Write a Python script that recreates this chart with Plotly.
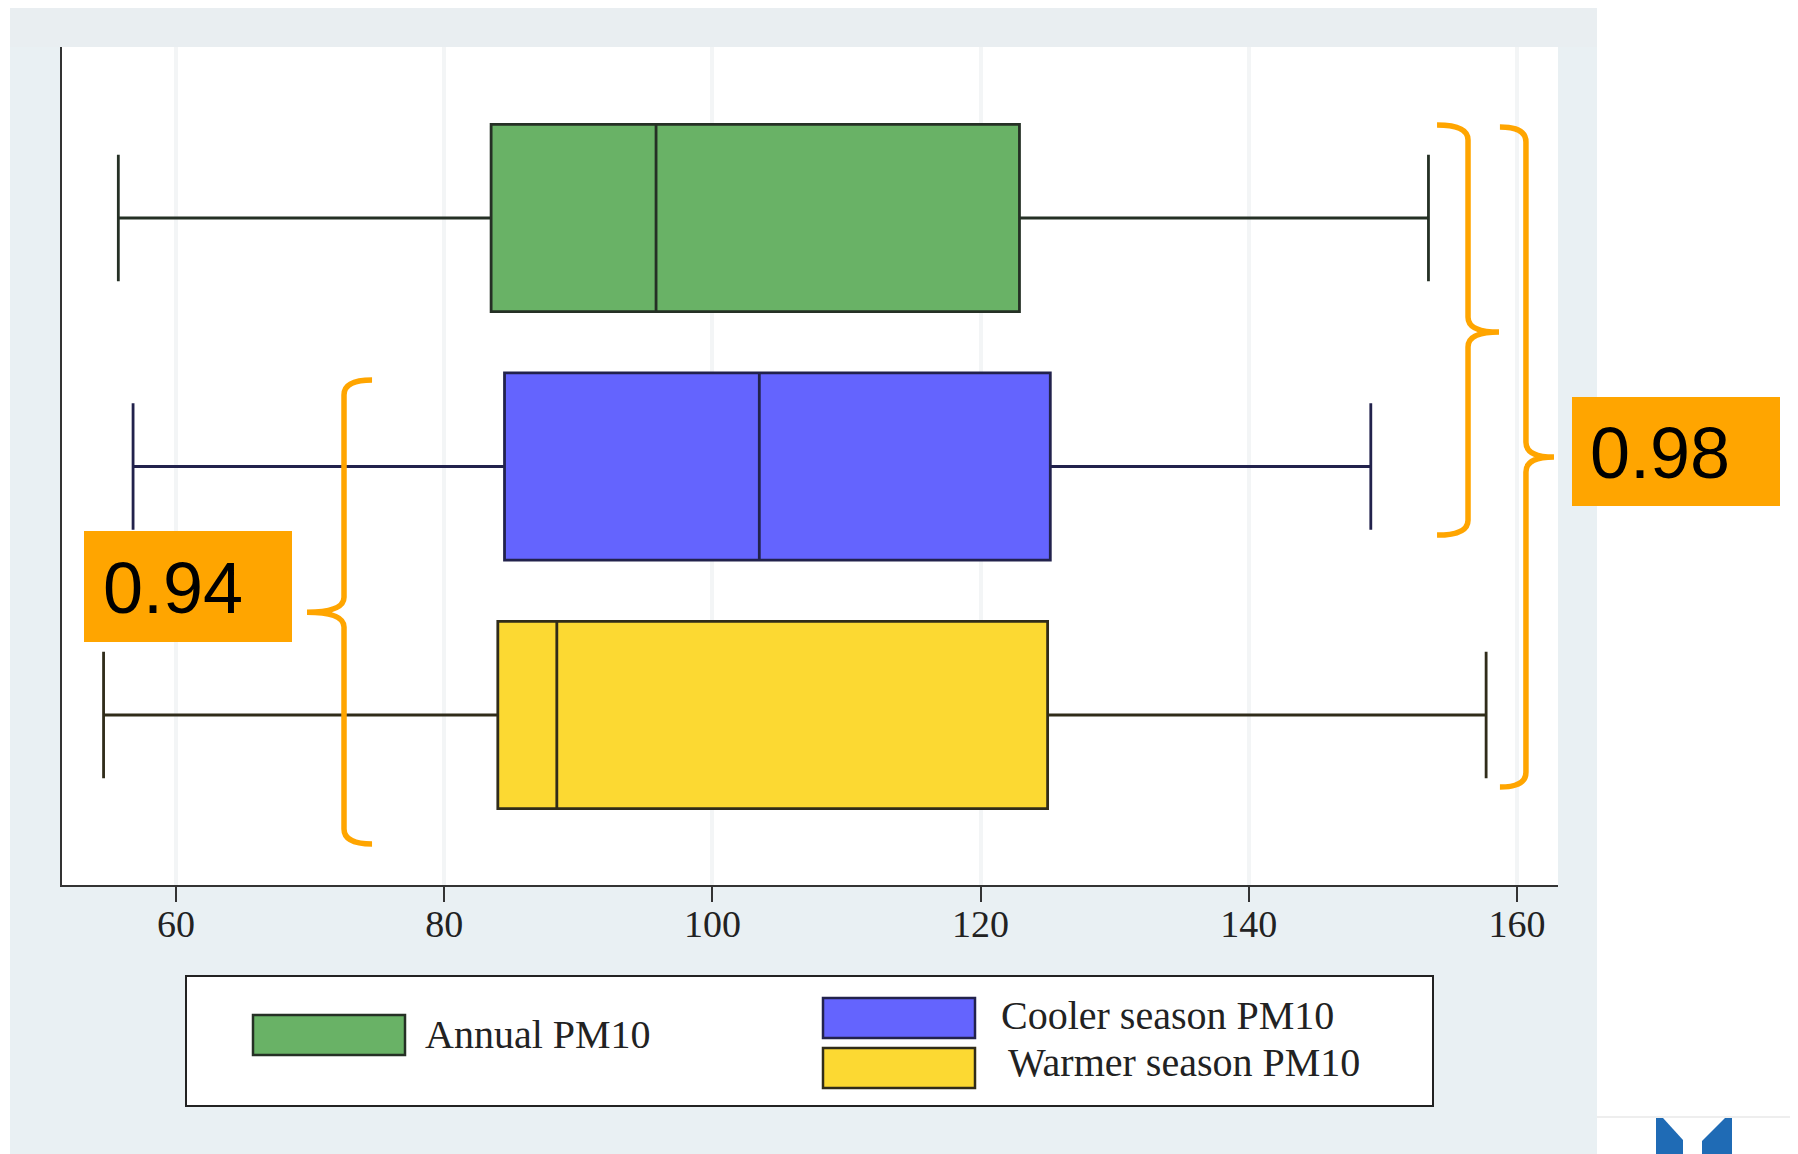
import plotly.graph_objects as go

# ---------------- data ----------------
categories = ["Annual PM10", "Cooler season PM10", "Warmer season PM10"]
lower_fence = [55.7, 56.8, 54.6]
q1_vals = [83.5, 84.5, 84.0]
median_vals = [95.8, 103.5, 88.4]
q3_vals = [122.9, 125.2, 125.0]
upper_fence = [153.4, 149.1, 157.7]
x_ticks = [60, 80, 100, 120, 140, 160]
corr_labels = ["0.94", "0.98"]

# ---------------- style ----------------
fill_colors = ["#69b266", "#6464fe", "#fcd932"]
line_colors = ["#253025", "#22224c", "#302c1a"]
ORANGE = "#FFA500"
PAGE_W, PAGE_H = 1798, 1154
OFF = 8  # default body margin of the html page
W, H = PAGE_W - OFF, PAGE_H - OFF
PL, PT, PR, PB = 62, 47, 1558, 885  # plot area in page pixels
ML, MT = PL - OFF, PT - OFF
MR, MB = W - (PR - OFF), H - (PB - OFF)
PW, PH = PR - PL, PB - PT


def fx(px):
    return (px - PL) / PW


def fy(py):
    return (PB - py) / PH


n = len(categories)
positions = [n - 1 - i for i in range(n)]

fig = go.Figure()
for i, name in enumerate(categories):
    fig.add_trace(go.Box(
        name=name,
        y=[positions[i]],
        q1=[q1_vals[i]], median=[median_vals[i]], q3=[q3_vals[i]],
        lowerfence=[lower_fence[i]], upperfence=[upper_fence[i]],
        orientation="h",
        width=0.753,
        whiskerwidth=0.675,
        fillcolor=fill_colors[i],
        line=dict(color=line_colors[i], width=2.8),
        boxpoints=False,
        showlegend=False,
        hoverinfo="x+name",
    ))

shapes = []
# background panel and white plot area
shapes.append(dict(type="rect", xref="paper", yref="paper", layer="below",
                   x0=fx(10), x1=fx(1597), y0=fy(7), y1=fy(1160),
                   fillcolor="#e9f0f3", line=dict(width=0)))
shapes.append(dict(type="rect", xref="paper", yref="paper", layer="below",
                   x0=fx(10), x1=fx(1597), y0=fy(7), y1=fy(47),
                   fillcolor="#e9eef1", line=dict(width=0)))
shapes.append(dict(type="rect", xref="paper", yref="paper", layer="below",
                   x0=0, x1=1, y0=0, y1=1,
                   fillcolor="#ffffff", line=dict(width=0)))
# thin rule and logo on the right
shapes.append(dict(type="line", xref="paper", yref="paper",
                   x0=fx(1597), x1=fx(1800), y0=fy(1117), y1=fy(1117),
                   line=dict(color="#eeeeee", width=2)))
logo_l = "M {},{} L {},{} L {},{} L {},{} L {},{} Z".format(
    fx(1656), fy(1118), fx(1663), fy(1118), fx(1683), fy(1140),
    fx(1683), fy(1160), fx(1656), fy(1160))
logo_r = "M {},{} L {},{} L {},{} L {},{} L {},{} Z".format(
    fx(1732), fy(1118), fx(1725), fy(1118), fx(1702), fy(1141),
    fx(1702), fy(1160), fx(1732), fy(1160))
for p in (logo_l, logo_r):
    shapes.append(dict(type="path", xref="paper", yref="paper", path=p,
                       fillcolor="#1f6bb5", line=dict(width=0)))


def brace(xv, xh, xt, ytop, ybot, ymid, r=0.06):
    return ("M {xh},{yt} Q {xv},{yt} {xv},{yt_r} L {xv},{ym_p} "
            "Q {xv},{ym} {xt},{ym} Q {xv},{ym} {xv},{ym_m} "
            "L {xv},{yb_r} Q {xv},{yb} {xh},{yb}").format(
        xh=xh, xv=xv, xt=xt, yt=ytop, yt_r=ytop - r, ym_p=ymid + r,
        ym=ymid, ym_m=ymid - r, yb_r=ybot + r, yb=ybot)


braces = [
    brace(72.53, 74.62, 69.77, 1.348, -0.519, 0.414),
    brace(156.35, 154.04, 158.66, 2.374, 0.724, 1.541),
    brace(160.67, 158.73, 162.76, 2.366, -0.290, 1.038),
]
for b in braces:
    shapes.append(dict(type="path", xref="x", yref="y", path=b,
                       line=dict(color=ORANGE, width=5.5)))

# orange correlation boxes
label_boxes = [(84, 292, 531, 642, 101, 588), (1572, 1780, 397, 506, 1588, 453)]
annotations = []
for (x0, x1, y0, y1, tx, ty), lab in zip(label_boxes, corr_labels):
    shapes.append(dict(type="rect", xref="paper", yref="paper",
                       x0=fx(x0), x1=fx(x1), y0=fy(y1), y1=fy(y0),
                       fillcolor=ORANGE, line=dict(width=0)))
    annotations.append(dict(xref="paper", yref="paper", x=fx(tx), y=fy(ty),
                            xanchor="left", yanchor="middle", showarrow=False,
                            text=lab, font=dict(family="Liberation Sans, Arial",
                                                size=72, color="#000000")))

# custom legend
shapes.append(dict(type="rect", xref="paper", yref="paper",
                   x0=fx(186), x1=fx(1433), y0=fy(1106), y1=fy(976),
                   fillcolor="#ffffff", line=dict(color="#222222", width=2)))
legend_items = [(253, 405, 1015, 1055, 423, 1034),
                (823, 975, 998, 1038, 999, 1015),
                (823, 975, 1048, 1088, 1006, 1062)]
for i, (x0, x1, y0, y1, tx, ty) in enumerate(legend_items):
    shapes.append(dict(type="rect", xref="paper", yref="paper",
                       x0=fx(x0), x1=fx(x1), y0=fy(y1), y1=fy(y0),
                       fillcolor=fill_colors[i],
                       line=dict(color=line_colors[i], width=2.5)))
    annotations.append(dict(xref="paper", yref="paper", x=fx(tx), y=fy(ty),
                            xanchor="left", yanchor="middle", showarrow=False,
                            text=categories[i],
                            font=dict(family="Liberation Serif, Times New Roman",
                                      size=40, color="#222222")))

fig.update_layout(
    width=W, height=H, autosize=False,
    margin=dict(l=ML, r=MR, t=MT, b=MB, pad=0),
    paper_bgcolor="#ffffff", plot_bgcolor="#ffffff",
    boxmode="overlay",
    shapes=shapes, annotations=annotations,
    xaxis=dict(range=[51.5, 163.06], tickvals=x_ticks,
               ticktext=[str(t) for t in x_ticks],
               showline=True, linecolor="#333333", linewidth=2,
               ticks="outside", ticklen=15, tickwidth=2, tickcolor="#333333",
               ticklabelstandoff=-11,
               showgrid=True, gridcolor="#f3f5f6", gridwidth=4,
               zeroline=False, fixedrange=True,
               tickfont=dict(family="Liberation Serif, Times New Roman",
                             size=38, color="#222222")),
    yaxis=dict(range=[-0.684, 2.688], showline=True, linecolor="#333333",
               linewidth=2, showticklabels=False, ticks="", showgrid=False,
               zeroline=False, fixedrange=True),
)

fig.write_html("out.html")
